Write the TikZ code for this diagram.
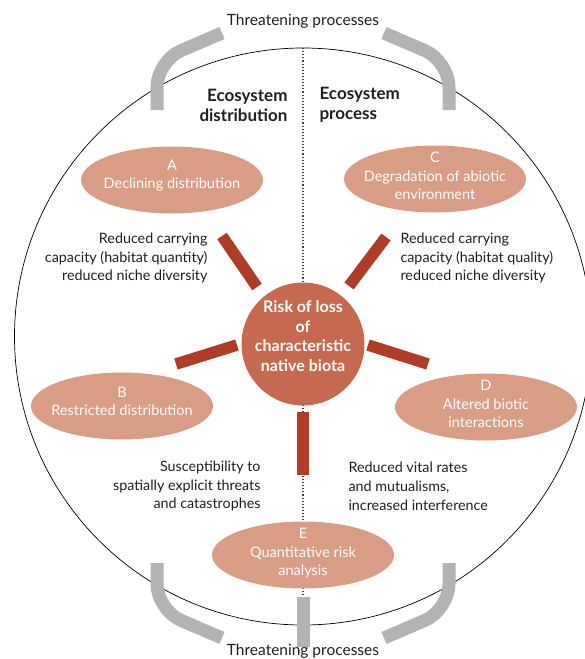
\documentclass[tikz,border=0pt]{standalone}
\usepackage{fontspec}
\setmainfont{Lato}
\usetikzlibrary{shapes.geometric}
\definecolor{ellfill}{HTML}{D99C85}
\definecolor{corefill}{HTML}{C56A50}
\definecolor{barred}{HTML}{B03B26}
\definecolor{greyb}{HTML}{B3B3B3}
\definecolor{txt}{HTML}{231F20}
\begin{document}
\begin{tikzpicture}[x=1pt,y=-1pt,
  every node/.style={font=\fontsize{14}{18}\selectfont, text=txt},
  oval/.style={ellipse, fill=ellfill, minimum width=182pt, minimum height=67pt, inner xsep=-40pt, inner ysep=-20pt, align=center, text=white, font=\fontsize{14.5}{18.5}\selectfont},
  core/.style={circle, fill=corefill, minimum size=123pt, inner sep=-30pt, align=center, text=white, font=\fontsize{16}{19.5}\selectfont\bfseries, text depth=16pt},
  redbar/.style={draw=barred, line width=11.5pt},
  greybar/.style={draw=greyb, line width=13pt, rounded corners=26pt},
  hdr/.style={font=\fontsize{17}{20}\selectfont\bfseries},
  note/.style={font=\fontsize{14.3}{18.8}\selectfont},
  threat/.style={font=\fontsize{15.5}{18}\selectfont}
]
\useasboundingbox (0,0) rectangle (585,659);
% outer circle
\draw[line width=0.7pt, black] (303,336.5) circle[radius=288.5];
% dotted divider
\coordinate (dtop) at (303,48);
\coordinate (dbot) at (303,600);
\draw[dotted, line width=1.1pt, black!75] (dtop) -- (dbot);
% grey threatening bars
\draw[greybar] (222,33) -- (157,61) -- (157,110);
\draw[greybar] (384,33) -- (449,61) -- (449,110);
\draw[greybar] (157,563) -- (157,610) -- (222,638);
\draw[greybar] (449,563) -- (449,610) -- (384,638);
\draw[greyb, line width=13pt] (303,597) -- (303,647);
% titles
\node[threat] (tt) at (303,21) {Threatening processes};
\node[threat] (tb) at (303,651) {Threatening processes};
\node[hdr, anchor=east, align=right] (h1) at (291,105) {Ecosystem\\distribution};
\node[hdr, anchor=west, align=left] (h2) at (316,105) {Ecosystem\\process};
% central
\node[core] (core) at (303,344) {Risk of loss\\of\\characteristic\\native biota};
% ellipses
\node[oval, text depth=11pt] (A) at (172,180) {A\\Declining distribution};
\node[oval, text depth=9pt] (B) at (122,406) {B\\Restricted distribution};
\node[oval, text depth=6pt] (C) at (435,179) {C\\Degradation of abiotic\\environment};
\node[oval, text depth=6pt] (D) at (486,407) {D\\Altered biotic\\interactions};
\node[oval, text depth=6pt] (E) at (303,555) {E\\Quantitative risk\\analysis};
% red bars
\coordinate (a1) at (222,236); \coordinate (a2) at (257,287);
\coordinate (c1) at (386,237); \coordinate (c2) at (349,286);
\coordinate (b1) at (176,364); \coordinate (b2) at (237,345);
\coordinate (d1) at (368,345); \coordinate (d2) at (428,364);
\coordinate (e1) at (303,412); \coordinate (e2) at (303,475);
\draw[redbar] (a1) -- (a2);
\draw[redbar] (c1) -- (c2);
\draw[redbar] (b1) -- (b2);
\draw[redbar] (d1) -- (d2);
\draw[redbar] (e1) -- (e2);
% notes
\node[note, anchor=east, align=right] (nA) at (211,258) {Reduced carrying\\capacity (habitat quantity)\\reduced niche diversity};
\node[note, anchor=west, align=left] (nC) at (397,258) {Reduced carrying\\capacity (habitat quality)\\reduced niche diversity};
\node[note, anchor=east, align=right] (nB) at (264,486) {Susceptibility to\\spatially explicit threats\\and catastrophes};
\node[note, anchor=west, align=left] (nD) at (345,486) {Reduced vital rates\\and mutualisms,\\increased interference};
\end{tikzpicture}
\end{document}
